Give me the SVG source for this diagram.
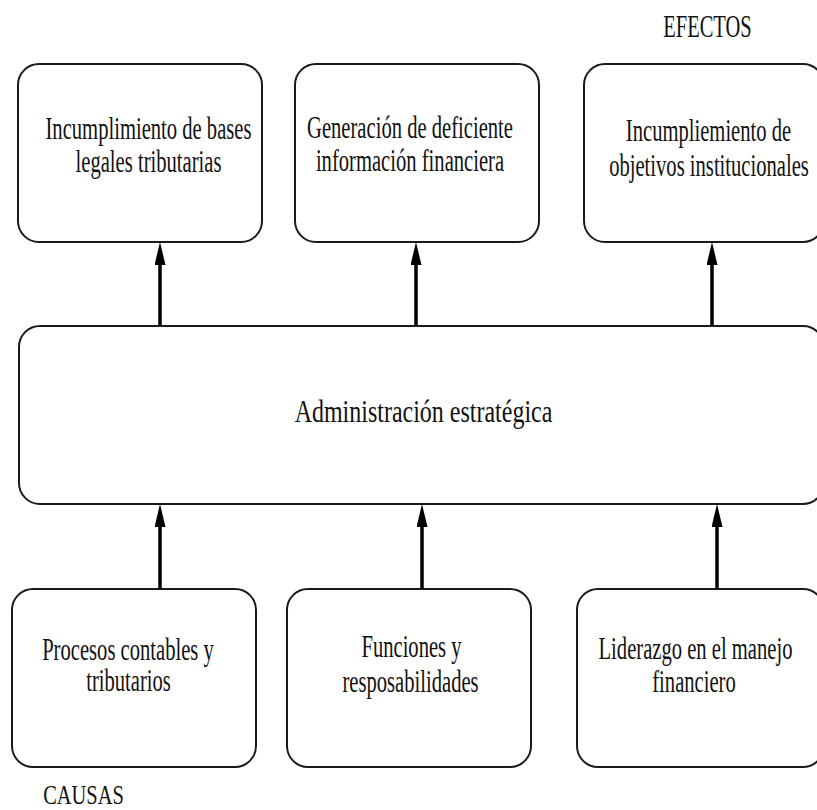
<svg xmlns="http://www.w3.org/2000/svg" width="817" height="810" viewBox="0 0 817 810">
  <style>
    .box { fill: #ffffff; stroke: #1a1a1a; stroke-width: 2; }
    .lbl { font-family: "Liberation Serif", "Times New Roman", serif; font-size: 31px; fill: #111111; text-anchor: middle; }
    .big { font-size: 32px; }
    .small { font-size: 28px; }
    .conn { stroke: #000000; stroke-width: 3.5; fill: none; marker-end: url(#head); }
  </style>
  <defs>
    <marker id="head" markerUnits="userSpaceOnUse" markerWidth="24" markerHeight="12" refX="12" refY="5.5" orient="auto">
      <path d="M0,0 L23,5.5 L0,11 Z" fill="#000000"/>
    </marker>
  </defs>
  <rect width="817" height="810" fill="#ffffff"/>

  <!-- section titles (narrow serif: glyphs squeezed horizontally) -->
  <text class="lbl big" transform="translate(707.5 37) scale(0.64 1)">EFECTOS</text>
  <text class="lbl small" transform="translate(83.5 803.5) scale(0.73 1)">CAUSAS</text>

  <!-- effects row -->
  <g id="efecto-1">
    <rect class="box" x="18" y="64" width="244" height="178" rx="21"/>
    <text class="lbl" transform="translate(148.5 139) scale(0.665 1)">Incumplimiento de bases</text>
    <text class="lbl" transform="translate(148.5 172) scale(0.665 1)">legales tributarias</text>
  </g>
  <g id="efecto-2">
    <rect class="box" x="295" y="64" width="244" height="178" rx="21"/>
    <text class="lbl" transform="translate(410 138) scale(0.665 1)">Generación de deficiente</text>
    <text class="lbl" transform="translate(410 171) scale(0.665 1)">información financiera</text>
  </g>
  <g id="efecto-3">
    <rect class="box" x="584" y="64" width="240" height="178" rx="21"/>
    <text class="lbl" transform="translate(708.5 141) scale(0.665 1)">Incumpliemiento de</text>
    <text class="lbl" transform="translate(709 176) scale(0.665 1)">objetivos institucionales</text>
  </g>

  <!-- central problem -->
  <g id="problema">
    <rect class="box" x="19" y="326" width="805" height="178" rx="21"/>
    <text class="lbl big" transform="translate(423.5 422) scale(0.75 1)">Administración estratégica</text>
  </g>

  <!-- causes row -->
  <g id="causa-1">
    <rect class="box" x="12" y="589" width="244" height="178" rx="21"/>
    <text class="lbl" transform="translate(128 660) scale(0.665 1)">Procesos contables y</text>
    <text class="lbl" transform="translate(128.5 691) scale(0.665 1)">tributarios</text>
  </g>
  <g id="causa-2">
    <rect class="box" x="287" y="589" width="244" height="178" rx="21"/>
    <text class="lbl" transform="translate(411.5 657) scale(0.665 1)">Funciones y</text>
    <text class="lbl" transform="translate(410.5 692) scale(0.665 1)">resposabilidades</text>
  </g>
  <g id="causa-3">
    <rect class="box" x="577" y="589" width="247" height="178" rx="21"/>
    <text class="lbl" transform="translate(695.5 659) scale(0.665 1)">Liderazgo en el manejo</text>
    <text class="lbl" transform="translate(694 692) scale(0.665 1)">financiero</text>
  </g>

  <!-- connectors: causes -> problem -> effects -->
  <g id="connectors">
    <line class="conn" x1="160" y1="326" x2="160" y2="253"/>
    <line class="conn" x1="416" y1="326" x2="416" y2="253"/>
    <line class="conn" x1="712" y1="326" x2="712" y2="253"/>
    <line class="conn" x1="160" y1="589" x2="160" y2="515"/>
    <line class="conn" x1="422" y1="589" x2="422" y2="515"/>
    <line class="conn" x1="717" y1="589" x2="717" y2="515"/>
  </g>
</svg>
